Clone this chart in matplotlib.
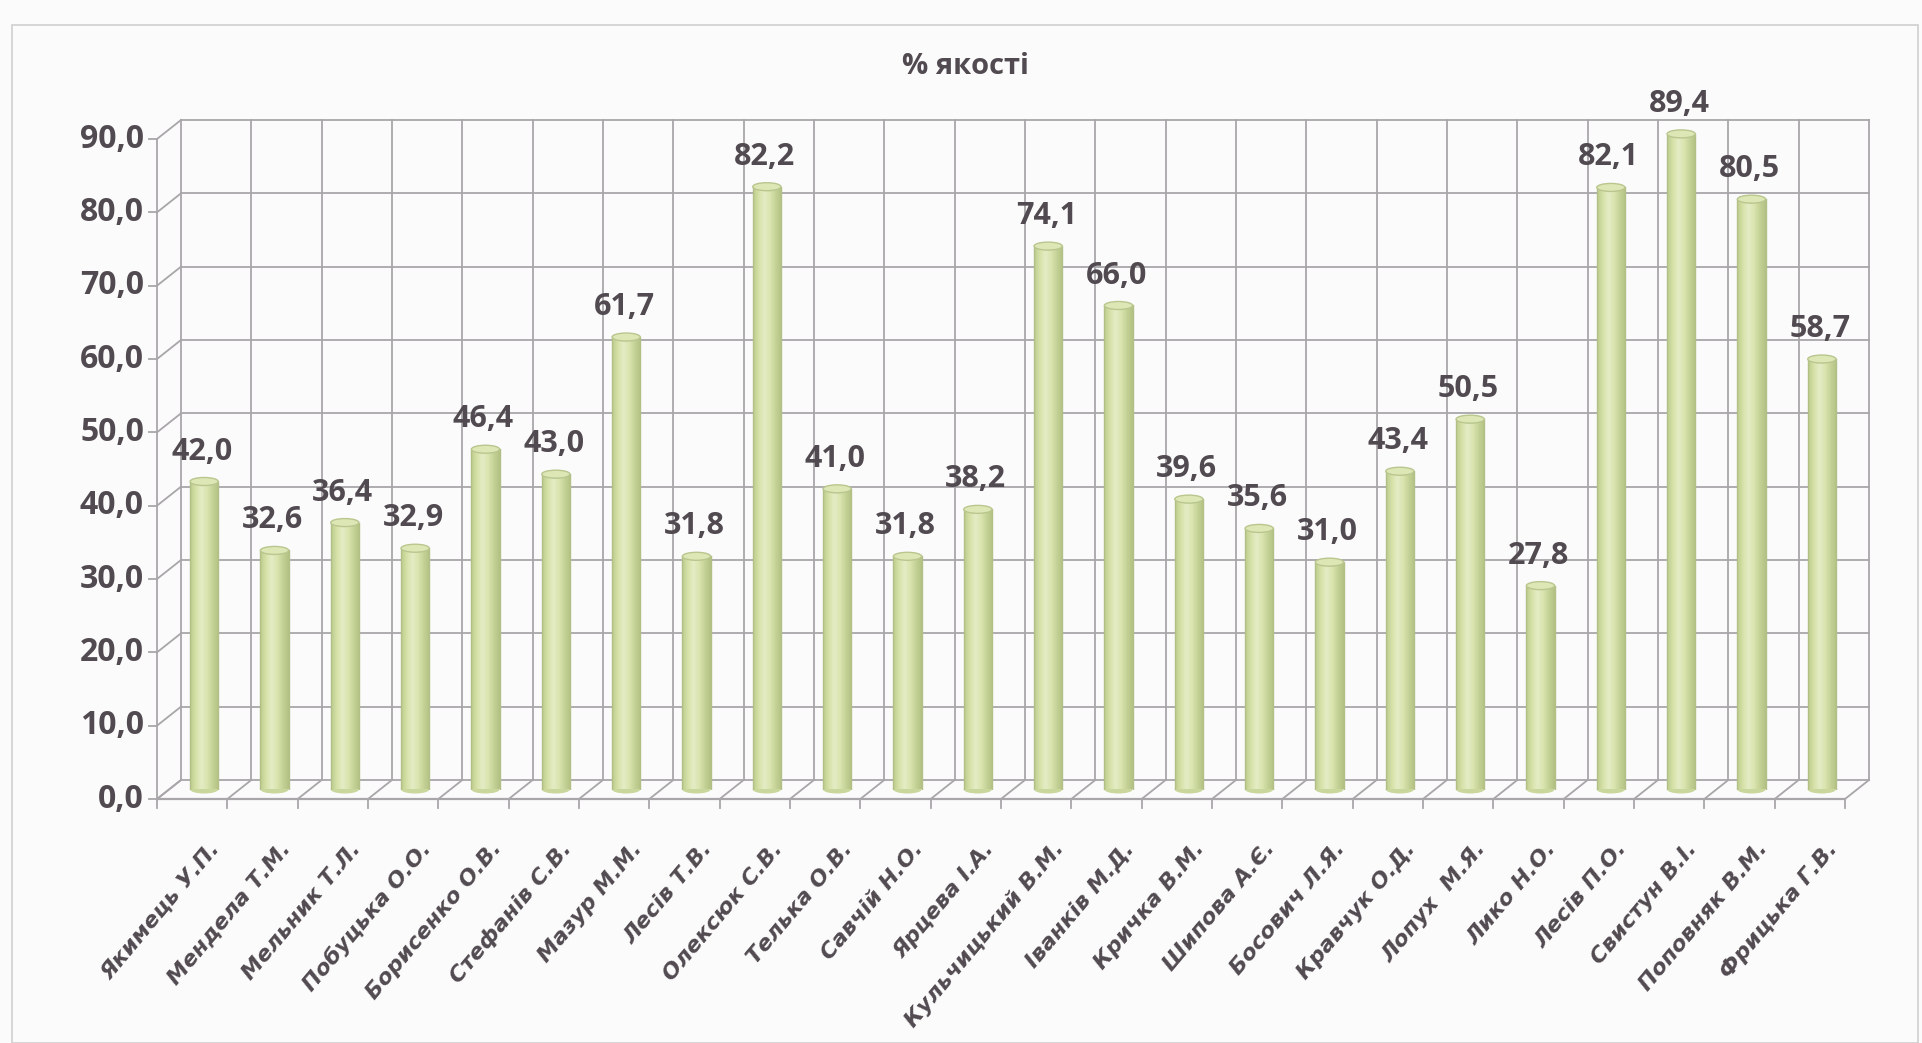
import numpy as np
import matplotlib.pyplot as plt
from matplotlib.patches import Rectangle, Ellipse
from matplotlib.colors import LinearSegmentedColormap

teachers = [
    "Якимець У.П.", "Мендела Т.М.", "Мельник Т.Л.", "Побуцька О.О.", "Борисенко О.В.",
    "Стефанів С.В.", "Мазур М.М.", "Лесів Т.В.", "Олексюк С.В.", "Телька О.В.",
    "Савчій Н.О.", "Ярцева І.А.", "Кульчицький В.М.", "Іванків М.Д.", "Кричка В.М.",
    "Шипова А.Є.", "Босович Л.Я.", "Кравчук О.Д.", "Лопух  М.Я.", "Лико Н.О.",
    "Лесів П.О.", "Свистун В.І.", "Поповняк В.М.", "Фрицька Г.В.",
]
quality = [42.0, 32.6, 36.4, 32.9, 46.4, 43.0, 61.7, 31.8, 82.2, 41.0, 31.8, 38.2,
           74.1, 66.0, 39.6, 35.6, 31.0, 43.4, 50.5, 27.8, 82.1, 89.4, 80.5, 58.7]
y_ticks = np.arange(0, 100, 10)
title = "% якості"

W, H = 1922, 1043
text_col = "#514a50"
grid_col = "#a9a6a9"

fig = plt.figure(figsize=(W / 100, H / 100), dpi=100, facecolor="#fbfbfb")

# outer chart border (scanned Excel frame)
fig.patches.append(Rectangle((12 / W, 0), (W - 16) / W, (H - 25) / H, transform=fig.transFigure,
                             fill=False, edgecolor="#cfcfcf", lw=1.2))

# axes = middle depth plane where the cylinders stand
left, right, y0, y90 = 169, 1857, 789.5, 129.5
ax = fig.add_axes([left / W, (H - y0) / H, (right - left) / W, (y0 - y90) / H])
n = len(teachers)
ax.set_xlim(-0.5, n - 0.5)
ax.set_ylim(0, 90)
ax.axis("off")

# depth offset (half) in data units
DX = 12 / ((right - left) / n)
DY = 9.5 / ((y0 - y90) / 90)
lw = 1.3

# back wall
for t in y_ticks:
    ax.plot([-0.5 + DX, n - 0.5 + DX], [t + DY, t + DY], color=grid_col, lw=lw, clip_on=False)
    ax.plot([-0.5 - DX, -0.5 + DX], [t - DY, t + DY], color=grid_col, lw=lw, clip_on=False)
    ax.plot([-0.5 - DX - 0.11, -0.5 - DX], [t - DY, t - DY], color=grid_col, lw=lw, clip_on=False)
    ax.annotate(f"{t:.1f}".replace(".", ","), (-0.5 - DX, t - DY), xytext=(-13, 0),
                textcoords="offset pixels", ha="right", va="center", fontsize=23,
                fontweight="bold", color=text_col, family="Open Sans", annotation_clip=False)
for k in range(n + 1):
    x = k - 0.5
    ax.plot([x + DX, x + DX], [DY, 90 + DY], color=grid_col, lw=lw, clip_on=False)
    ax.plot([x - DX, x + DX], [-DY, DY], color=grid_col, lw=lw, clip_on=False)
    ax.plot([x - DX, x - DX], [-DY, -DY - 1.2], color=grid_col, lw=lw, clip_on=False)

# front axes
ax.plot([-0.5 - DX, -0.5 - DX], [-DY, 90 - DY], color=grid_col, lw=lw, clip_on=False)
ax.plot([-0.5 - DX, n - 0.5 - DX], [-DY, -DY], color=grid_col, lw=lw + 0.3, clip_on=False)

# cylinders
cmap = LinearSegmentedColormap.from_list(
    "cyl", ["#bccb8e", "#d6e2a8", "#e4ecc6", "#d9e4ae", "#c4d196", "#b3c283"])
grad = np.linspace(0, 1, 64).reshape(1, -1)
bw = 0.4
cap_h = 8 / ((y0 - y90) / 90)
for i, v in enumerate(quality):
    rect = Rectangle((i - bw / 2, 0), bw, v, facecolor="none", edgecolor="none")
    ax.add_patch(rect)
    im = ax.imshow(grad, extent=[i - bw / 2, i + bw / 2, 0, v], aspect="auto", cmap=cmap,
                   zorder=3, interpolation="bicubic")
    im.set_clip_path(rect)
    ax.add_patch(Ellipse((i, 0), bw, cap_h, facecolor="#c9d69c", edgecolor="none", zorder=2.9,
                         clip_on=False))
    ax.plot([i - bw / 2, i - bw / 2], [0, v], color="#b2bf86", lw=1, zorder=4)
    ax.plot([i + bw / 2, i + bw / 2], [0, v], color="#b2bf86", lw=1, zorder=4)
    ax.add_patch(Ellipse((i, v), bw, cap_h, facecolor="#dde7b6", edgecolor="#b9c68e", lw=1,
                         zorder=5, clip_on=False))
    ax.annotate(f"{v:.1f}".replace(".", ","), (i, v), xytext=(-2, 30), textcoords="offset pixels",
                ha="center", va="center", fontsize=22, fontweight="bold", color=text_col,
                family="Open Sans", zorder=6, annotation_clip=False)
    ax.annotate(teachers[i], (i - DX, -DY), xytext=(24, -46), textcoords="offset pixels",
                ha="right", va="center", rotation=50, rotation_mode="anchor", fontsize=16,
                fontweight="bold", style="italic", color=text_col, family="DejaVu Sans",
                annotation_clip=False)

fig.text(966 / W, 1 - 67 / H, title, ha="center", va="center", fontsize=21, fontweight="bold",
         color=text_col, family="Open Sans")

fig.savefig("out.png", dpi=100, facecolor=fig.get_facecolor())
